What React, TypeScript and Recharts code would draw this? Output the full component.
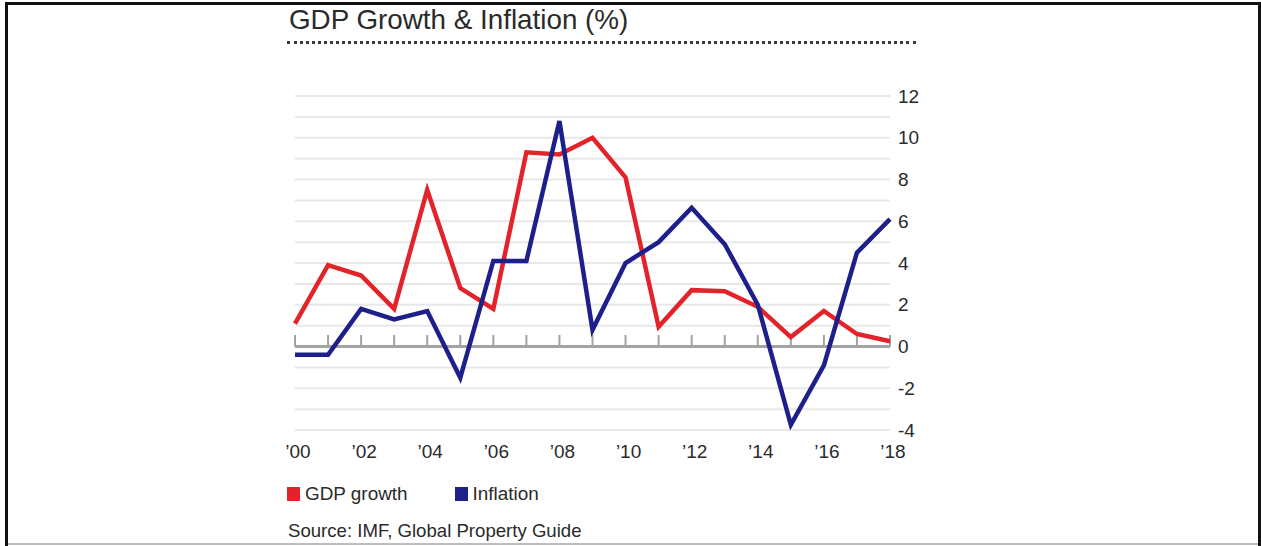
import React from 'react';
import { LineChart, Line, XAxis, YAxis, CartesianGrid, ReferenceLine } from 'recharts';

const YEARS = [2000, 2001, 2002, 2003, 2004, 2005, 2006, 2007, 2008, 2009, 2010, 2011, 2012, 2013, 2014, 2015, 2016, 2017, 2018];
const GDP_GROWTH = [1.1, 3.9, 3.4, 1.8, 7.5, 2.8, 1.8, 9.3, 9.2, 10.0, 8.1, 0.95, 2.7, 2.65, 1.9, 0.45, 1.7, 0.6, 0.25];
const INFLATION = [-0.4, -0.4, 1.8, 1.3, 1.7, -1.5, 4.1, 4.1, 10.8, 0.8, 4.0, 5.0, 6.65, 4.9, 2.0, -3.75, -0.9, 4.5, 6.1];
const X_TICKS = [2000, 2002, 2004, 2006, 2008, 2010, 2012, 2014, 2016, 2018];
const Y_TICKS = [-4, -3, -2, -1, 0, 1, 2, 3, 4, 5, 6, 7, 8, 9, 10, 11, 12];

const TITLE = 'GDP Growth & Inflation (%)';
const SOURCE = 'Source: IMF, Global Property Guide';

const SERIES = [
  { key: 'gdp', name: 'GDP growth', color: '#e3232a' },
  { key: 'inflation', name: 'Inflation', color: '#1d1f8a' },
];

const data = YEARS.map((year, i) => ({ year, gdp: GDP_GROWTH[i], inflation: INFLATION[i] }));

const FONT = '"Liberation Sans", Arial, sans-serif';
const TEXT = '#2a2a2a';

export default function App() {
  return (
    <div style={{ position: 'absolute', left: 0, top: 0, width: 1261, height: 546, background: '#fff', overflow: 'hidden', fontFamily: FONT }}>
      {/* frame */}
      <div style={{ position: 'absolute', left: 5, top: 2, width: 1256, height: 3, background: '#111' }} />
      <div style={{ position: 'absolute', left: 5, top: 2, width: 3, height: 544, background: '#111' }} />
      <div style={{ position: 'absolute', left: 1258, top: 2, width: 3, height: 544, background: '#111' }} />
      <div style={{ position: 'absolute', left: 8, top: 543, width: 1250, height: 2, background: '#bdbdbd' }} />

      {/* title */}
      <div style={{ position: 'absolute', left: 289, top: 6, fontSize: 27.8, lineHeight: 1, color: TEXT, whiteSpace: 'nowrap' }}>{TITLE}</div>
      <div style={{ position: 'absolute', left: 287, top: 41, width: 629, height: 0, borderTop: '3px dotted #3a3a3a' }} />

      <div style={{ position: 'absolute', left: 0, top: 0 }}>
        <LineChart width={1261} height={546} data={data} margin={{ top: 96, right: 331, bottom: 86, left: 295 }}>
          <CartesianGrid horizontal vertical={false} stroke="#e8e8e8" strokeWidth={2} />
          <XAxis
            dataKey="year"
            type="number"
            domain={[2000, 2018]}
            ticks={X_TICKS}
            tickFormatter={(v: number) => '\u2019' + String(v).slice(2)}
            axisLine={false}
            tickLine={false}
            tickSize={0}
            tickMargin={15}
            height={30}
            tick={{ fill: TEXT, fontSize: 19, fontFamily: FONT, dx: 3 }}
            interval={0}
          />
          <YAxis
            orientation="right"
            domain={[-4, 12]}
            ticks={Y_TICKS}
            tickFormatter={(v: number) => (v % 2 === 0 ? String(v) : '')}
            axisLine={false}
            tickLine={false}
            tickSize={0}
            tickMargin={8}
            width={40}
            interval={0}
            allowDataOverflow
            tick={{ fill: TEXT, fontSize: 19, fontFamily: FONT, textAnchor: 'start' }}
          />
          <ReferenceLine y={0} stroke="#a3a3a3" strokeWidth={3} />
          {YEARS.map((y) => (
            <ReferenceLine key={y} segment={[{ x: y, y: 0 }, { x: y, y: 0.55 }]} stroke="#a3a3a3" strokeWidth={2} />
          ))}
          {SERIES.map((s) => (
            <Line
              key={s.key}
              type="linear"
              dataKey={s.key}
              name={s.name}
              stroke={s.color}
              strokeWidth={4.5}
              dot={false}
              activeDot={false}
              isAnimationActive={false}
            />
          ))}
        </LineChart>
      </div>

      {/* legend */}
      <div style={{ position: 'absolute', left: 287, top: 485, display: 'flex', alignItems: 'flex-start', whiteSpace: 'nowrap' }}>
        {SERIES.map((s, i) => (
          <div key={s.key} style={{ display: 'flex', alignItems: 'center', marginRight: i === 0 ? 47 : 0 }}>
            <div style={{ width: 13, height: 14, background: s.color, marginRight: 5 }} />
            <span style={{ fontSize: 18.9, lineHeight: 1, color: TEXT }}>{s.name}</span>
          </div>
        ))}
      </div>

      {/* source */}
      <div style={{ position: 'absolute', left: 288, top: 522, fontSize: 18.6, lineHeight: 1, color: TEXT, whiteSpace: 'nowrap' }}>{SOURCE}</div>
    </div>
  );
}
